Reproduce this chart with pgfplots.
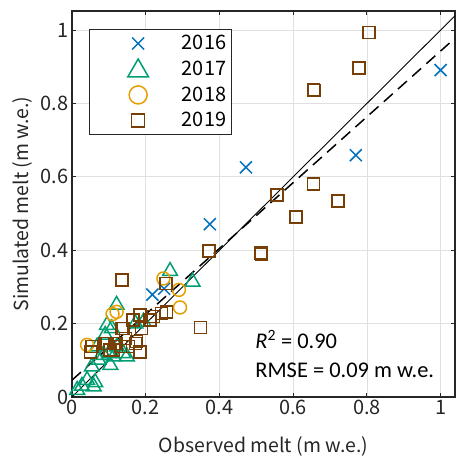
\documentclass[border=0pt]{standalone}
\usepackage{fontspec}
\setmainfont{Noto Sans CJK JP}
\newfontfamily\calfont{Carlito}
\usepackage{pgfplots}
\pgfplotsset{compat=1.18}
\definecolor{c16}{RGB}{0,114,189}
\definecolor{c17}{RGB}{0,158,115}
\definecolor{c18}{RGB}{230,159,0}
\definecolor{c19}{RGB}{119,62,6}
\definecolor{axc}{RGB}{38,38,38}
\begin{document}
\begin{tikzpicture}
\begin{axis}[
  scale only axis, width=383bp, height=386bp,
  xmin=0, xmax=1.039, ymin=0, ymax=1.052,
  xtick={0,0.2,0.4,0.6,0.8,1}, ytick={0,0.2,0.4,0.6,0.8,1},
  grid=major, major grid style={color=black!12, line width=0.8bp},
  axis line style={color=axc, line width=1.2bp},
  tick style={color=axc, line width=0.9bp},
  tick align=inside, major tick length=4.5bp,
  tick label style={font=\fontsize{20}{20}\selectfont, color=axc},
  /pgf/number format/assume math mode=true,
  xlabel={Observed melt (m w.e.)},
  ylabel={Simulated melt (m w.e.)},
  label style={font=\fontsize{19.5}{19.5}\selectfont, color=axc},
  xlabel style={at={(axis description cs:0.5,-0.128)}, anchor=center},
  ylabel style={at={(axis description cs:-0.13,0.5)}, anchor=center},
  legend style={at={(0.0444,0.953)}, anchor=north west, draw=axc, line width=0.8bp,
    font=\fontsize{20}{20}\selectfont, inner xsep=3bp, inner ysep=4bp, row sep=5.5bp},
  legend cell align=left,
  legend image code/.code={\path (0bp,-8bp) (86bp,8bp); \draw[mark repeat=2,mark phase=2,#1] plot coordinates {(0bp,0bp)(45bp,0bp)(86bp,0bp)};},
]
\addlegendimage{only marks, mark=x, mark size=8.5bp, color=c16, line width=1.5bp}
\addlegendentry{2016}
\addlegendimage{only marks, mark=triangle, mark size=12bp, color=c17, line width=1.5bp, mark options={yshift=-1.5bp}}
\addlegendentry{2017}
\addlegendimage{only marks, mark=o, mark size=9bp, color=c18, line width=1.5bp}
\addlegendentry{2018}
\addlegendimage{only marks, mark=square, mark size=6.5bp, color=c19, line width=1.5bp}
\addlegendentry{2019}
\addplot[only marks, mark=x, mark size=8.5bp, color=c16, line width=1.5bp, forget plot] coordinates {
(1.000,0.891) (0.770,0.659) (0.472,0.626) (0.374,0.471) (0.218,0.279) (0.250,0.295)};
\addplot[only marks, mark=triangle, mark size=8.5bp, color=c17, line width=1.5bp, forget plot] coordinates {
(0.014,0.019) (0.027,0.030) (0.041,0.046) (0.059,0.028) (0.063,0.040) (0.054,0.083)
(0.072,0.101) (0.086,0.114) (0.100,0.119) (0.104,0.087) (0.113,0.110) (0.149,0.110)
(0.068,0.137) (0.090,0.169) (0.095,0.196) (0.108,0.187) (0.121,0.251) (0.172,0.200)
(0.194,0.205) (0.266,0.343) (0.327,0.314) (0.139,0.119) (0.122,0.137)};
\addplot[only marks, mark=o, mark size=6.5bp, color=c18, line width=1.5bp, forget plot] coordinates {
(0.041,0.142) (0.110,0.226) (0.121,0.232) (0.248,0.323) (0.290,0.292) (0.293,0.244)};
\addplot[only marks, mark=square, mark size=6bp, color=c19, line width=1.5bp, forget plot] coordinates {
(0.806,0.993) (0.778,0.897) (0.655,0.838) (0.656,0.836) (0.655,0.580) (0.722,0.534)
(0.607,0.491) (0.556,0.550) (0.372,0.398) (0.513,0.392) (0.514,0.390) (0.349,0.190)
(0.255,0.310) (0.136,0.319) (0.184,0.223) (0.166,0.210) (0.139,0.187) (0.221,0.220)
(0.257,0.232) (0.243,0.228) (0.212,0.210) (0.189,0.187) (0.175,0.151) (0.184,0.123)
(0.121,0.146) (0.090,0.146) (0.153,0.137) (0.054,0.137) (0.050,0.123) (0.095,0.146)
(0.117,0.146) (0.113,0.128) (0.131,0.137) (0.145,0.160) (0.172,0.146) (0.103,0.128)
(0.136,0.187)};
\addplot[black, line width=0.9bp, forget plot] coordinates {(0,0) (1.039,1.039)};
\addplot[black, line width=1.5bp, dash pattern=on 12bp off 7bp, forget plot] coordinates {(0,0.046) (1.039,0.978)};
\node[anchor=base west, font=\calfont\fontsize{22.5}{22.5}\selectfont, text=black] at (axis cs:0.488,0.1335) {\textit{R}\textsuperscript{2} = 0.90};
\node[anchor=base west, font=\calfont\fontsize{22.5}{22.5}\selectfont, text=black] at (axis cs:0.488,0.0526) {RMSE = 0.09 m w.e.};
\end{axis}
\pgfresetboundingbox
\path ([xshift=-72bp,yshift=-60bp]current axis.south west) rectangle ([xshift=1bp,yshift=11bp]current axis.north east);
\end{tikzpicture}
\end{document}
